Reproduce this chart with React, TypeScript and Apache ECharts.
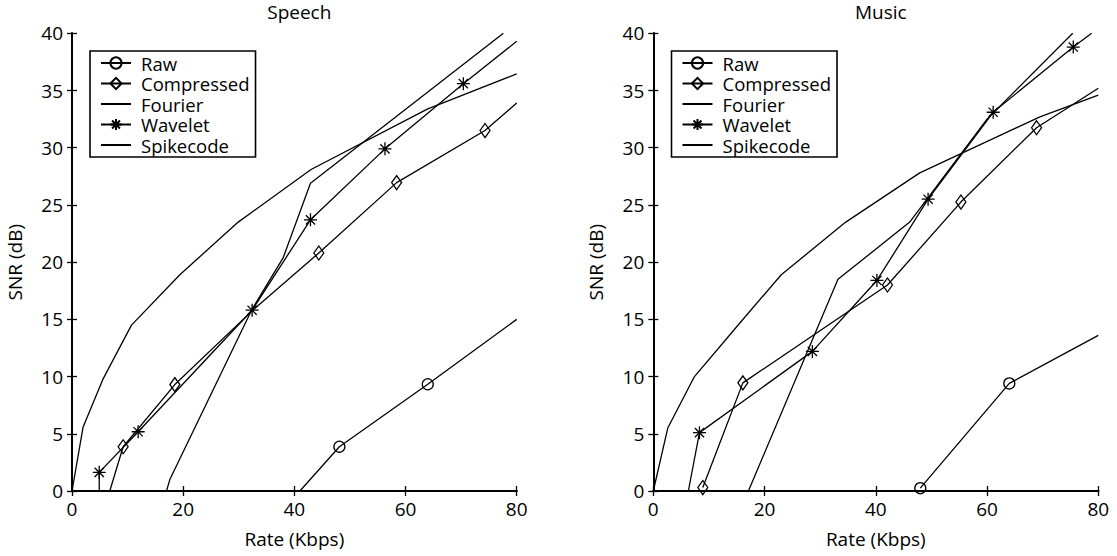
import React, { useEffect, useRef } from "react";
import * as echarts from "echarts";

// ---- data (Rate in Kbps, SNR in dB) ----
const seriesNames = ["Raw", "Compressed", "Fourier", "Wavelet", "Spikecode"];
const panelTitles = ["Speech", "Music"];
const xTicks = [0, 20, 40, 60, 80];
const yTicks = [0, 5, 10, 15, 20, 25, 30, 35, 40];

const speechRaw = [[41, 0], [48.1, 3.87], [64, 9.33], [80, 15]];
const speechRawMarks = [1, 2];
const speechCompressed = [[6.8, 0], [9.2, 3.87], [18.5, 9.3], [32.3, 15.7], [44.4, 20.8], [58.4, 26.95], [74.3, 31.5], [80, 33.9]];
const speechCompressedMarks = [1, 2, 4, 5, 6];
const speechFourier = [[0, 0], [2, 5.6], [5.6, 9.8], [10.7, 14.5], [19.4, 18.9], [29.9, 23.5], [43, 28.1], [64, 33.4], [80, 36.45]];
const speechWavelet = [[4.9, 0], [4.9, 1.63], [11.9, 5.18], [32.4, 15.8], [42.9, 23.7], [56.3, 29.9], [70.4, 35.6], [80, 39.3]];
const speechWaveletMarks = [1, 2, 3, 4, 5, 6];
const speechSpikecode = [[17, 0], [17.6, 1], [32.3, 15.8], [38, 20.4], [42.9, 26.9], [77.6, 40]];

const musicRaw = [[48, 0.25], [64, 9.4], [80, 13.6]];
const musicRawMarks = [0, 1];
const musicCompressed = [[8.9, 0.3], [16.1, 9.45], [42.1, 18], [55.3, 25.25], [68.9, 31.75], [80, 35.2]];
const musicCompressedMarks = [0, 1, 2, 3, 4];
const musicFourier = [[0, 0], [2.6, 5.5], [7.4, 10], [15.6, 14.7], [23, 18.9], [34.6, 23.5], [47.9, 27.8], [69.5, 32.7], [80, 34.6]];
const musicWavelet = [[6.3, 0], [8.3, 5.1], [28.6, 12.2], [40.2, 18.4], [49.4, 25.5], [61.1, 33.1], [75.5, 38.8], [78.8, 40]];
const musicWaveletMarks = [1, 2, 3, 4, 5, 6];
const musicSpikecode = [[17.1, 0], [33.2, 18.5], [46.1, 23.5], [60, 32.5], [75.4, 40]];

const FONT = "Open Sans";
const STAR = "path://M0,-10L0,10M-10,0L10,0M-7.1,-7.1L7.1,7.1M-7.1,7.1L7.1,-7.1";

function withMarks(points: number[][], marks: number[] | null) {
  return points.map((p, i) => {
    if (marks && marks.indexOf(i) >= 0) return { value: p };
    return { value: p, symbol: "none" };
  });
}

function makeSeries(name: string, points: number[][], marks: number[] | null, symbol: string, size: any, axis: number) {
  const plain = !marks;
  return {
    type: "line",
    name,
    xAxisIndex: axis,
    yAxisIndex: axis,
    data: withMarks(points, marks),
    symbol: plain ? "circle" : symbol,
    symbolSize: size,
    showAllSymbol: true,
    clip: true,
    lineStyle: { color: "#000", width: 1.3 },
    itemStyle: plain
      ? { color: "rgba(0,0,0,0)", borderColor: "rgba(0,0,0,0)", borderWidth: 0 }
      : { color: "rgba(0,0,0,0)", borderColor: "#000", borderWidth: 1.3 },
    emphasis: { disabled: true },
    z: 3,
  };
}

export default function App() {
  const ref = useRef<HTMLDivElement>(null);
  useEffect(() => {
    if (!ref.current) return;
    const chart = echarts.init(ref.current, undefined, { renderer: "svg" });
    const grids = [
      { left: 72, top: 33.3, width: 444.7, height: 457.7 },
      { left: 653.3, top: 33.3, width: 445, height: 457.7 },
    ];
    const txt = { fontFamily: FONT, fontSize: 19, color: "#000" };
    const xAxes: any[] = [];
    const yAxes: any[] = [];
    [0, 1].forEach((g) => {
      const lineS = { show: true, lineStyle: { color: "#000", width: 2 } };
      const tick = { show: true, inside: true, length: 5, lineStyle: { color: "#000", width: 1.3 } };
      xAxes.push({
        type: "value", gridIndex: g, min: xTicks[0], max: xTicks[xTicks.length - 1], interval: xTicks[1] - xTicks[0],
        position: "bottom", axisLine: lineS, axisTick: tick, splitLine: { show: false },
        axisLabel: { ...txt, margin: 8 },
        name: "Rate (Kbps)", nameLocation: "middle", nameGap: 38, nameTextStyle: txt,
      });
      xAxes.push({
        type: "value", gridIndex: g, min: xTicks[0], max: xTicks[xTicks.length - 1], interval: xTicks[1] - xTicks[0],
        position: "top", axisLine: lineS, axisTick: tick, splitLine: { show: false }, axisLabel: { show: false },
      });
      yAxes.push({
        type: "value", gridIndex: g, min: yTicks[0], max: yTicks[yTicks.length - 1], interval: yTicks[1] - yTicks[0],
        position: "left", axisLine: lineS, axisTick: tick, splitLine: { show: false },
        axisLabel: { ...txt, margin: 9 },
        name: "SNR (dB)", nameLocation: "middle", nameGap: 48, nameTextStyle: txt,
      });
      yAxes.push({
        type: "value", gridIndex: g, min: yTicks[0], max: yTicks[yTicks.length - 1], interval: yTicks[1] - yTicks[0],
        position: "right", axisLine: lineS, axisTick: tick, splitLine: { show: false }, axisLabel: { show: false },
      });
    });

    const series: any[] = [
      makeSeries(seriesNames[0], speechRaw, speechRawMarks, "circle", 11, 0),
      makeSeries(seriesNames[1], speechCompressed, speechCompressedMarks, "diamond", [10, 14], 0),
      makeSeries(seriesNames[2], speechFourier, null, "none", 0, 0),
      makeSeries(seriesNames[3], speechWavelet, speechWaveletMarks, STAR, 13, 0),
      makeSeries(seriesNames[4], speechSpikecode, null, "none", 0, 0),
      makeSeries(seriesNames[0], musicRaw, musicRawMarks, "circle", 11, 2),
      makeSeries(seriesNames[1], musicCompressed, musicCompressedMarks, "diamond", [10, 14], 2),
      makeSeries(seriesNames[2], musicFourier, null, "none", 0, 2),
      makeSeries(seriesNames[3], musicWavelet, musicWaveletMarks, STAR, 13, 2),
      makeSeries(seriesNames[4], musicSpikecode, null, "none", 0, 2),
    ];

    const legendBase = {
      orient: "vertical",
      top: 51,
      data: seriesNames,
      itemWidth: 30,
      itemHeight: 14,
      itemGap: 0.5,
      padding: [2, 6, 2, 10],
      borderColor: "#000",
      borderWidth: 1.6,
      backgroundColor: "#fff",
      selectedMode: false,
      textStyle: { fontFamily: FONT, fontSize: 18.5, color: "#000", lineHeight: 20, padding: [0, 0, 0, 5] },
    };

    chart.setOption({
      animation: false,
      backgroundColor: "#fff",
      title: [
        { text: panelTitles[0], left: 294.3, top: -3, textAlign: "center", textStyle: { ...txt, fontWeight: "normal" } },
        { text: panelTitles[1], left: 875.8, top: -3, textAlign: "center", textStyle: { ...txt, fontWeight: "normal" } },
      ],
      grid: grids,
      xAxis: xAxes,
      yAxis: yAxes,
      legend: [
        { ...legendBase, left: 90 },
        { ...legendBase, left: 671.5 },
      ],
      series,
    });
    return () => chart.dispose();
  }, []);
  return <div ref={ref} style={{ position: "fixed", left: 0, top: 0, width: 1117, height: 556 }} />;
}
